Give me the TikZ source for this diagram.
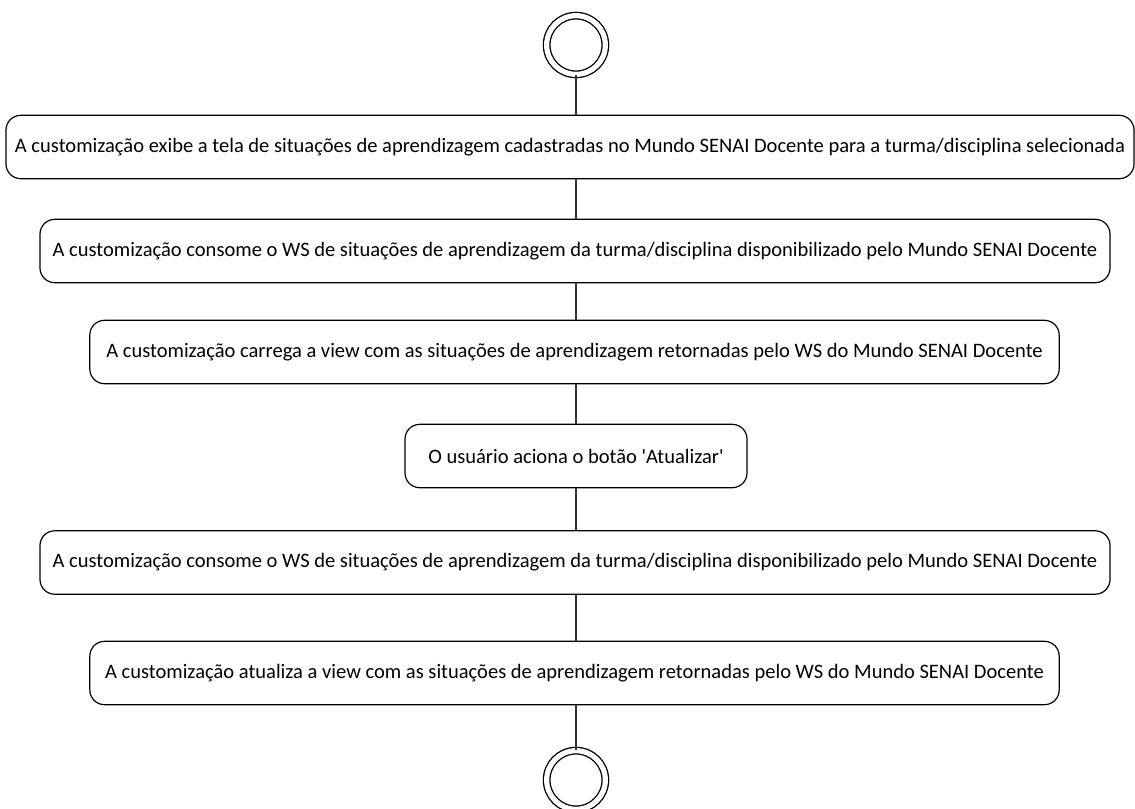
\documentclass[tikz,border=0pt]{standalone}
\usepackage{fontspec}
\setmainfont{Carlito}
\usetikzlibrary{positioning}

\begin{document}
\begin{tikzpicture}[x=0.75pt,y=-0.75pt,
	act/.style={draw,rectangle,rounded corners=11pt,line width=0.9pt,minimum height=47.5pt,inner sep=0pt,font=\fontsize{15.4}{18}\selectfont},
	term/.style={draw,circle,double,double distance=3.9pt,minimum size=44pt,inner sep=0pt,line width=1pt},
	flow/.style={draw,line width=0.9pt,black!80}]
	\useasboundingbox (0,0) rectangle (1135,808);

	\node[term] (start) at (576,45) {};
	\node[act,minimum width=846pt] (act1) at (570,147) {A customização exibe a tela de situações de aprendizagem cadastradas no Mundo SENAI Docente para a turma/disciplina selecionada};
	\node[act,minimum width=802.5pt] (act2) at (575,251) {A customização consome o WS de situações de aprendizagem da turma/disciplina disponibilizado pelo Mundo SENAI Docente};
	\node[act,minimum width=727pt] (act3) at (574.5,352) {A customização carrega a view com as situações de aprendizagem retornadas pelo WS do Mundo SENAI Docente};
	\node[act,minimum width=256.5pt] (act4) at (576,456) {O usuário aciona o botão \textquotesingle Atualizar\textquotesingle};
	\node[act,minimum width=802.5pt] (act5) at (575,562.5) {A customização consome o WS de situações de aprendizagem da turma/disciplina disponibilizado pelo Mundo SENAI Docente};
	\node[act,minimum width=727pt] (act6) at (574.5,673) {A customização atualiza a view com as situações de aprendizagem retornadas pelo WS do Mundo SENAI Docente};
	\node[term] (stop) at (576,780) {};

	% connectors
	\draw[flow] (start.south) -- (start.south |- act1.north);
	\draw[flow] (start.south |- act1.south) -- (start.south |- act2.north);
	\draw[flow] (start.south |- act2.south) -- (start.south |- act3.north);
	\draw[flow] (start.south |- act3.south) -- (act4.north);
	\draw[flow] (act4.south) -- (act4.south |- act5.north);
	\draw[flow] (act4.south |- act5.south) -- (act4.south |- act6.north);
	\draw[flow] (act4.south |- act6.south) -- (stop.north);
\end{tikzpicture}
\end{document}
